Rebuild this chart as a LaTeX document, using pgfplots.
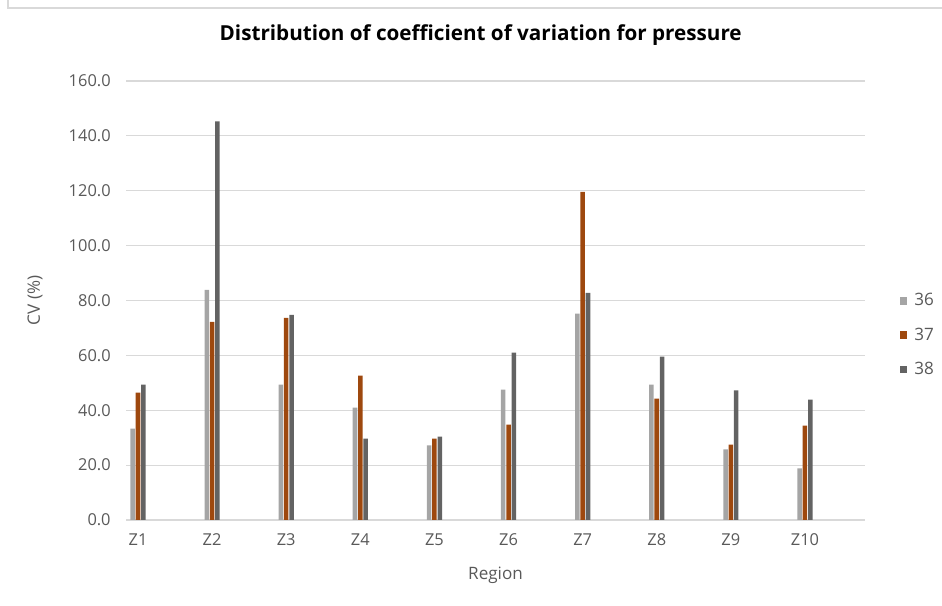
\documentclass[border=0pt]{standalone}
\usepackage{pgfplots}
\pgfplotsset{compat=1.18}
\usepackage{fontspec}
\setmainfont{Open Sans}
\definecolor{cA}{HTML}{A5A5A5}
\definecolor{cB}{HTML}{9E480E}
\definecolor{cC}{HTML}{636363}
\definecolor{gridc}{HTML}{D9D9D9}
\definecolor{txt}{HTML}{595959}
\begin{document}
\begin{tikzpicture}[x=0.75pt,y=0.75pt]
\path[use as bounding box] (0,0) rectangle (942,606);
\draw[gridc, line width=1.5pt] (7.5,606) -- (7.5,598) -- (942,598);
\begin{axis}[
  at={(94.5pt,64.5pt)}, anchor=south west,
  scale only axis, width=554.25pt, height=329.25pt,
  xmin=-0.162, xmax=9.81, ymin=0, ymax=160,
  ytick={0,20,...,160},
  xtick={0,...,9},
  xticklabels={Z1,Z2,Z3,Z4,Z5,Z6,Z7,Z8,Z9,Z10},
  axis line style={draw=none},
  major tick length=0pt,
  ymajorgrids, grid style={gridc, line width=0.9pt},
  yticklabel style={/pgf/number format/fixed, /pgf/number format/fixed zerofill, /pgf/number format/precision=1, xshift=-8pt},
  ticklabel style={font=\fontsize{12.3}{14}\selectfont, text=txt},
  xticklabel style={yshift=-7pt},
  /pgf/number format/assume math mode=true,
  ybar, bar width=3.4pt,
  title={\textbf{Distribution of coefficient of variation for pressure}},
  title style={at={(rel axis cs:0.480,1.0866)}, anchor=center, font=\fontsize{15.5}{18}\selectfont, text=black},
  xlabel={Region}, ylabel={CV (\%)},
  every axis x label/.style={at={(rel axis cs:0.5,-0.125)}, anchor=center, font=\fontsize{12.8}{15}\selectfont, text=txt},
  every axis y label/.style={at={(rel axis cs:-0.123,0.5)}, rotate=90, anchor=center, font=\fontsize{12.8}{15}\selectfont, text=txt},
  legend style={at={(rel axis cs:1.072,0.421)}, anchor=center, draw=none, fill=none,
    font=\fontsize{12.8}{15}\selectfont, text=txt, row sep=11pt},
  legend cell align=left,
  legend image code/.code={\fill[#1] (0pt,-2.8pt) rectangle (5.6pt,2.8pt); \path (9pt,0pt);},
  clip=false,
]
\addplot[fill=cA, draw=none, bar shift=-4pt] coordinates {
 (0,33.3) (1,83.9) (2,49.3) (3,41.0) (4,27.2) (5,47.5) (6,75.2) (7,49.3) (8,25.7) (9,18.8)};
\addplot[fill=cB, draw=none, bar shift=0pt] coordinates {
 (0,46.4) (1,72.2) (2,73.7) (3,52.6) (4,29.7) (5,34.8) (6,119.6) (7,44.2) (8,27.5) (9,34.4)};
\addplot[fill=cC, draw=none, bar shift=4pt] coordinates {
 (0,49.3) (1,145.3) (2,74.8) (3,29.7) (4,30.4) (5,61.0) (6,82.8) (7,59.5) (8,47.2) (9,43.9)};
\legend{36,37,38}
\end{axis}
\end{tikzpicture}
\end{document}
